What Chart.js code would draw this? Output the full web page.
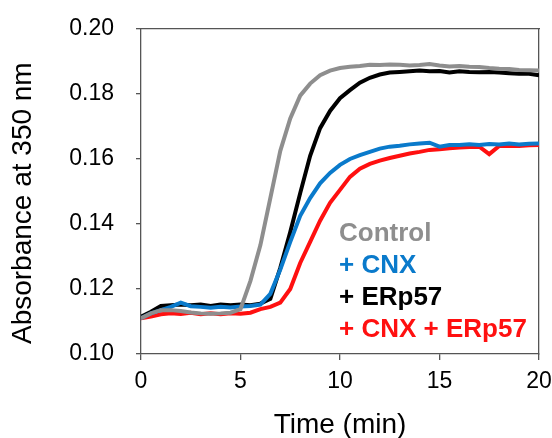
<!DOCTYPE html>
<html>
<head>
<meta charset="utf-8">
<script src="https://cdn.jsdelivr.net/npm/chart.js@4.4.1/dist/chart.umd.min.js"></script>
<style>
  html, body { margin: 0; padding: 0; background: #fff; }
  #wrap { width: 552px; height: 438px; }
</style>
</head>
<body>
<div id="wrap"><canvas id="myChart" width="552" height="438"></canvas></div>
<script>
// time points (min)
var tempos = [0, 0.5, 1, 1.5, 2, 2.5, 3, 3.5, 4, 4.5, 5, 5.5, 6, 6.5, 7, 7.5, 8, 8.5, 9, 9.5,
              10, 10.5, 11, 11.5, 12, 12.5, 13, 13.5, 14, 14.5, 15, 15.5, 16, 16.5, 17, 17.5, 18, 18.5, 19, 19.5, 20];

var controle = [0.1110, 0.1125, 0.1135, 0.1135, 0.1132, 0.1128, 0.1125, 0.1124, 0.1125, 0.1127,
                0.1138, 0.1225, 0.1335, 0.1480, 0.1625, 0.1725, 0.1795, 0.1832, 0.1858, 0.1872,
                0.1880, 0.1884, 0.1886, 0.1890, 0.1889, 0.1891, 0.1890, 0.1888, 0.1889, 0.1892,
                0.1888, 0.1885, 0.1886, 0.1884, 0.1883, 0.1880, 0.1878, 0.1877, 0.1874, 0.1873, 0.1872];

var cnx = [0.1110, 0.1125, 0.1135, 0.1145, 0.1158, 0.1147, 0.1145, 0.1142, 0.1145, 0.1143,
           0.1146, 0.1148, 0.1152, 0.1185, 0.1260, 0.1345, 0.1425, 0.1480, 0.1525, 0.1557,
           0.1582, 0.1600, 0.1612, 0.1622, 0.1632, 0.1638, 0.1641, 0.1645, 0.1648, 0.1650,
           0.1638, 0.1643, 0.1643, 0.1645, 0.1643, 0.1646, 0.1645, 0.1648, 0.1645, 0.1647, 0.1648];

var erp57 = [0.1115, 0.1130, 0.1148, 0.1150, 0.1152, 0.1150, 0.1152, 0.1148, 0.1152, 0.1150,
             0.1152, 0.1150, 0.1155, 0.1170, 0.1265, 0.1375, 0.1495, 0.1610, 0.1695, 0.1748,
             0.1787, 0.1812, 0.1835, 0.1850, 0.1860, 0.1866, 0.1868, 0.1870, 0.1872, 0.1870,
             0.1871, 0.1866, 0.1870, 0.1868, 0.1867, 0.1868, 0.1866, 0.1864, 0.1862, 0.1862, 0.1858];

var cnxErp57 = [0.1110, 0.1115, 0.1122, 0.1125, 0.1123, 0.1127, 0.1122, 0.1125, 0.1122, 0.1125,
                0.1124, 0.1127, 0.1138, 0.1145, 0.1158, 0.1200, 0.1280, 0.1345, 0.1410, 0.1465,
                0.1505, 0.1545, 0.1570, 0.1585, 0.1595, 0.1603, 0.1610, 0.1617, 0.1622, 0.1628,
                0.1630, 0.1633, 0.1635, 0.1637, 0.1638, 0.1615, 0.1640, 0.1641, 0.1640, 0.1642, 0.1643];

var rotulos = ['Control', '+ CNX', '+ ERp57', '+ CNX + ERp57'];
var cores = ['#8e8e8e', '#0a7acb', '#000000', '#ff1010'];
var ticksX = [0, 5, 10, 15, 20];
var ticksY = [0.10, 0.12, 0.14, 0.16, 0.18, 0.20];

function pontos(valores)
{
    return tempos.map(function (t, i) { return { x: t, y: valores[i] }; });
}

function serie(indice, valores)
{
    return {
        label: rotulos[indice],
        data: pontos(valores),
        borderColor: cores[indice],
        backgroundColor: cores[indice],
        borderWidth: 4,
        pointRadius: 0,
        tension: 0,
        fill: false
    };
}

// texto da legenda dentro da area do grafico
var legendaInterna =
{
    id: 'legendaInterna',
    afterDatasetsDraw: function (chart)
    {
        var ctx = chart.ctx;
        var area = chart.chartArea;
        ctx.save();
        ctx.font = 'bold 26px "Liberation Sans", Arial, sans-serif';
        ctx.textBaseline = 'alphabetic';
        ctx.textAlign = 'left';
        chart.data.datasets.forEach(function (ds, i)
        {
            ctx.fillStyle = ds.borderColor;
            ctx.fillText(ds.label, area.left + 198, area.top + 212 + i * 32);
        });
        ctx.restore();
    }
};

var corEixo = '#555555';
var fonte = '"Liberation Sans", Arial, sans-serif';

chart = new Chart(document.getElementById('myChart').getContext('2d'),
{
    type: 'line',
    data: {
        datasets: [serie(0, controle), serie(1, cnx), serie(2, erp57), serie(3, cnxErp57)]
    },
    options: {
        responsive: false,
        animation: false,
        layout: { padding: { top: 29, right: 13, left: 0, bottom: 0 } },
        plugins: {
            legend: { display: false },
            tooltip: { enabled: false }
        },
        scales: {
            x: {
                type: 'linear',
                min: 0,
                max: 20,
                afterBuildTicks: function (scale) { scale.ticks = ticksX.map(function (v) { return { value: v }; }); },
                afterFit: function (scale)
                {
                    scale.height = 84;
                    scale.paddingLeft = 0;
                    scale.paddingRight = 0;
                },
                ticks: {
                    color: '#000',
                    padding: 8,
                    maxRotation: 0,
                    font: { family: fonte, size: 23 }
                },
                grid: { display: true, drawOnChartArea: false, drawTicks: true, tickLength: 6, color: corEixo, lineWidth: 1.3 },
                border: { display: true, color: corEixo, width: 1.3 },
                title: {
                    display: true,
                    text: 'Time (min)',
                    color: '#000',
                    padding: { top: 0, bottom: 0 },
                    font: { family: fonte, size: 28, lineHeight: 0.9 }
                }
            },
            y: {
                type: 'linear',
                min: 0.10,
                max: 0.20,
                afterBuildTicks: function (scale) { scale.ticks = ticksY.map(function (v) { return { value: v }; }); },
                afterFit: function (scale)
                {
                    scale.width = 141;
                    scale.paddingTop = 0;
                    scale.paddingBottom = 0;
                },
                ticks: {
                    color: '#000',
                    padding: 22,
                    callback: function (v) { return v.toFixed(2); },
                    font: { family: fonte, size: 23 }
                },
                grid: { display: true, drawOnChartArea: false, drawTicks: true, tickLength: 5, color: corEixo, lineWidth: 1.3 },
                border: { display: true, color: corEixo, width: 1.3 },
                title: {
                    display: true,
                    text: 'Absorbance at 350 nm   ',
                    color: '#000',
                    padding: { top: 9, bottom: 0 },
                    font: { family: fonte, size: 28, lineHeight: 1 }
                }
            },
            x2: {
                type: 'linear',
                position: 'top',
                min: 0,
                max: 20,
                afterFit: function (scale) { scale.height = 0; },
                ticks: { display: false },
                grid: { display: false },
                border: { display: true, color: corEixo, width: 1.3 }
            },
            y2: {
                type: 'linear',
                position: 'right',
                min: 0.10,
                max: 0.20,
                afterFit: function (scale) { scale.width = 0; },
                ticks: { display: false },
                grid: { display: false },
                border: { display: true, color: corEixo, width: 1.3 }
            }
        }
    },
    plugins: [legendaInterna]
});
</script>
</body>
</html>
